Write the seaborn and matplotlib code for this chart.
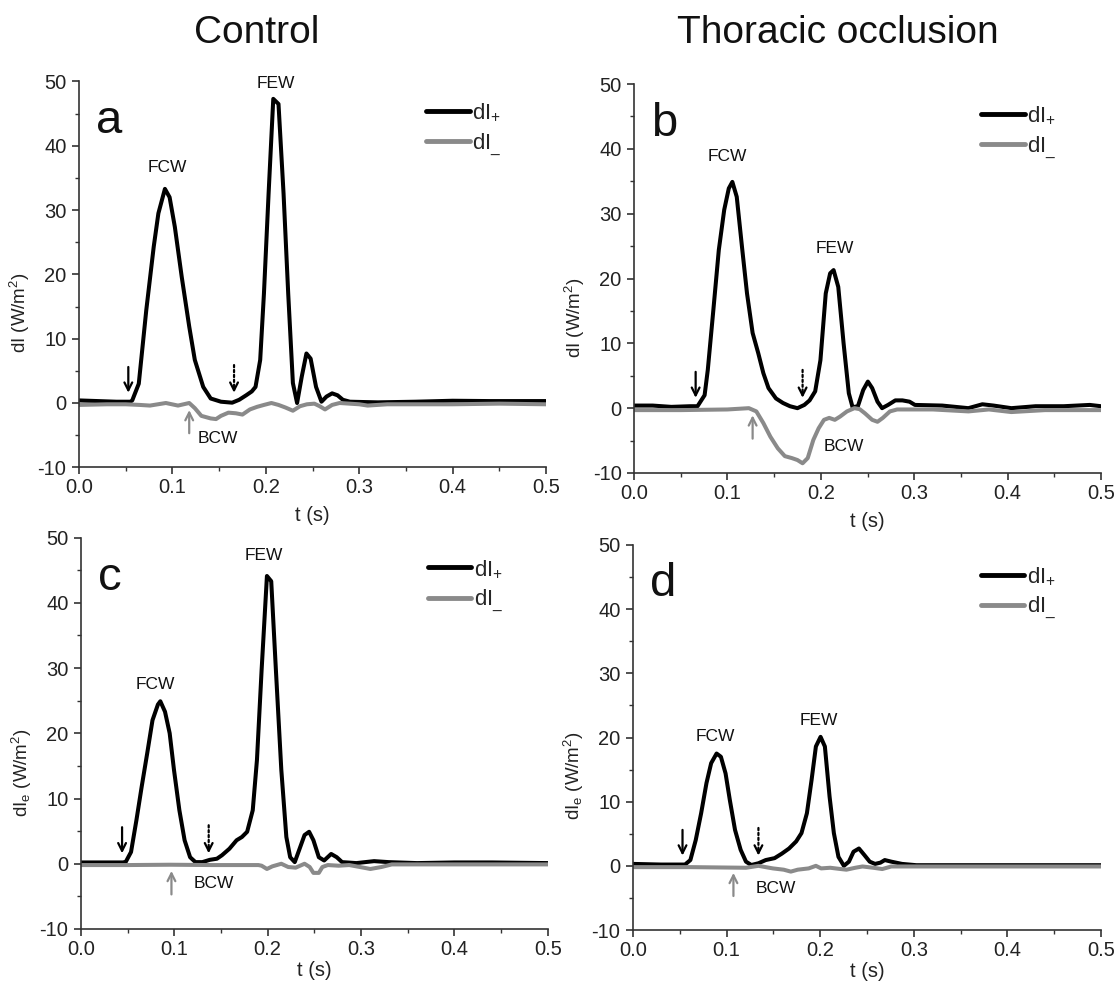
import matplotlib
matplotlib.use("Agg")
import matplotlib.pyplot as plt
import seaborn as sns
import pandas as pd

sns.set_style("ticks")
plt.rcParams['font.family'] = ['Liberation Sans', 'DejaVu Sans']
plt.rcParams['mathtext.fontset'] = 'custom'
plt.rcParams['mathtext.rm'] = 'Liberation Sans'
plt.rcParams['mathtext.it'] = 'Liberation Sans:italic'
plt.rcParams['mathtext.bf'] = 'Liberation Sans:bold'
plt.rcParams['axes.unicode_minus'] = False

# ---------------- data ----------------
column_titles = ["Control", "Thoracic occlusion"]
panel_letters = ["a", "b", "c", "d"]
ylabels = ["dI (W/m$^2$)", "dI (W/m$^2$)", "dI$_{\\mathrm{e}}$ (W/m$^2$)", "dI$_{\\mathrm{e}}$ (W/m$^2$)"]
series_labels = ["dI$_{{+}}$", "dI$_{{\\_}}$"]
xticks = [0.0, 0.1, 0.2, 0.3, 0.4, 0.5]
yticks = [-10, 0, 10, 20, 30, 40, 50]

a_pos_t = [0.0, 0.02, 0.04, 0.055, 0.057, 0.064, 0.072, 0.080, 0.085, 0.092, 0.097, 0.1026, 0.110, 0.118,
           0.124, 0.133, 0.141, 0.152, 0.164, 0.1715, 0.179, 0.185, 0.189, 0.194, 0.198, 0.203, 0.208,
           0.2136, 0.219, 0.224, 0.229, 0.2335, 0.2385, 0.2435, 0.248, 0.2538, 0.2596, 0.265, 0.271,
           0.2768, 0.2825, 0.29, 0.32, 0.36, 0.40, 0.44, 0.47, 0.5]
a_pos_v = [0.4, 0.3, 0.2, 0.2, 0.4, 3.0, 14.4, 24.3, 29.5, 33.3, 32.0, 27.4, 19.6, 11.9,
           6.7, 2.5, 0.7, 0.2, 0.05, 0.5, 1.2, 1.8, 2.5, 6.7, 17.0, 32.6, 47.3,
           46.5, 32.6, 17.0, 3.1, 0.0, 4.1, 7.7, 6.9, 2.5, 0.2, 1.0, 1.5,
           1.2, 0.5, 0.2, 0.1, 0.2, 0.35, 0.3, 0.3, 0.3]
a_neg_t = [0.0, 0.03, 0.05, 0.065, 0.076, 0.093, 0.106, 0.118, 0.124, 0.131, 0.141, 0.1467, 0.152, 0.16,
           0.168, 0.175, 0.183, 0.1906, 0.198, 0.206, 0.2136, 0.221, 0.229, 0.2366, 0.244, 0.252, 0.2577,
           0.2634, 0.271, 0.279, 0.30, 0.309, 0.33, 0.40, 0.45, 0.5]
a_neg_v = [-0.3, -0.2, -0.2, -0.3, -0.4, 0.0, -0.4, 0.0, -0.8, -2.0, -2.4, -2.5, -2.0, -1.5,
           -1.6, -1.8, -1.0, -0.6, -0.3, 0.0, -0.3, -0.7, -1.2, -0.5, -0.2, -0.1, -0.5,
           -1.0, -0.3, 0.0, -0.2, -0.4, -0.2, -0.2, -0.1, -0.2]

b_pos_t = [0.0, 0.02, 0.04, 0.06, 0.068, 0.0756, 0.079, 0.085, 0.0908, 0.0966, 0.1015, 0.1053, 0.11,
           0.1156, 0.121, 0.127, 0.133, 0.1385, 0.144, 0.152, 0.1595, 0.167, 0.175, 0.1824, 0.188, 0.194,
           0.1996, 0.2053, 0.21, 0.2137, 0.2187, 0.2244, 0.230, 0.234, 0.2397, 0.2454, 0.2504, 0.255,
           0.2607, 0.2656, 0.272, 0.2798, 0.2874, 0.295, 0.3008, 0.33, 0.358, 0.373, 0.385, 0.404, 0.43,
           0.46, 0.488, 0.5]
b_pos_v = [0.4, 0.4, 0.2, 0.3, 0.3, 2.0, 5.9, 15.2, 24.4, 30.6, 33.9, 34.9, 32.6,
           24.9, 17.7, 11.6, 8.5, 5.4, 3.1, 1.5, 0.8, 0.3, 0.0, 0.5, 1.2, 2.6,
           7.4, 17.7, 20.8, 21.3, 18.7, 10.0, 2.3, 0.15, 0.3, 2.8, 4.1, 3.1,
           1.0, 0.0, 0.5, 1.2, 1.2, 1.0, 0.5, 0.4, 0.0, 0.6, 0.4, 0.0, 0.3,
           0.3, 0.5, 0.3]
b_neg_t = [0.0, 0.05, 0.1, 0.123, 0.131, 0.1385, 0.146, 0.154, 0.1615, 0.169, 0.175, 0.1805, 0.186,
           0.192, 0.1977, 0.2034, 0.209, 0.215, 0.2206, 0.228, 0.236, 0.2416, 0.2473, 0.255, 0.2607,
           0.2664, 0.274, 0.2817, 0.32, 0.358, 0.38, 0.404, 0.44, 0.5]
b_neg_v = [-0.3, -0.3, -0.2, 0.0, -0.5, -2.3, -4.4, -6.2, -7.4, -7.7, -8.0, -8.5, -7.7,
           -4.9, -3.1, -1.8, -1.5, -1.8, -1.3, -0.5, 0.0, -0.15, -0.8, -1.8, -2.1,
           -1.5, -0.5, -0.2, -0.2, -0.5, -0.2, -0.6, -0.3, -0.3]

c_pos_t = [0.0, 0.02, 0.045, 0.048, 0.0536, 0.0594, 0.065, 0.0709, 0.0766, 0.0824, 0.085, 0.090, 0.095,
           0.0996, 0.1054, 0.111, 0.1169, 0.1226, 0.130, 0.138, 0.1456, 0.151, 0.159, 0.1667, 0.1724,
           0.178, 0.184, 0.1885, 0.1935, 0.1992, 0.2038, 0.2088, 0.2146, 0.22, 0.2241, 0.229, 0.2337,
           0.2395, 0.2444, 0.249, 0.2548, 0.2605, 0.268, 0.274, 0.2797, 0.295, 0.314, 0.3295, 0.36,
           0.40, 0.44, 0.5]
c_pos_v = [0.2, 0.2, 0.2, 0.3, 1.8, 6.7, 11.8, 16.9, 22.0, 24.4, 24.9, 23.3, 20.0,
           14.4, 8.2, 3.6, 1.0, 0.25, 0.25, 0.6, 0.77, 1.3, 2.3, 3.6, 4.1,
           4.9, 8.2, 15.9, 29.7, 44.1, 43.3, 29.7, 14.4, 4.1, 1.0, 0.25, 2.1,
           4.4, 4.9, 3.6, 1.0, 0.5, 1.5, 1.0, 0.25, 0.1, 0.4, 0.25, 0.1,
           0.2, 0.2, 0.1]
c_neg_t = [0.0, 0.05, 0.0958, 0.14, 0.19, 0.1935, 0.1992, 0.205, 0.2146, 0.222, 0.23, 0.2395, 0.245,
           0.249, 0.2548, 0.2586, 0.2644, 0.276, 0.2874, 0.2989, 0.31, 0.3218, 0.333, 0.40, 0.5]
c_neg_v = [-0.2, -0.2, -0.15, -0.2, -0.2, -0.3, -0.8, -0.4, 0.0, -0.5, -0.6, 0.0, -0.5,
           -1.4, -1.4, -0.5, -0.2, -0.3, -0.2, -0.5, -0.8, -0.5, -0.1, -0.1, -0.1]

d_pos_t = [0.0, 0.03, 0.0556, 0.0613, 0.067, 0.0728, 0.0785, 0.0835, 0.0893, 0.0939, 0.0989, 0.1034,
           0.109, 0.115, 0.1207, 0.1264, 0.134, 0.1418, 0.1513, 0.159, 0.1667, 0.1743, 0.18, 0.1858,
           0.1908, 0.1954, 0.2004, 0.205, 0.21, 0.2146, 0.2195, 0.2253, 0.2307, 0.2356, 0.2414, 0.2471,
           0.2529, 0.2586, 0.2644, 0.269, 0.276, 0.2874, 0.3027, 0.4, 0.5]
d_pos_v = [0.3, 0.2, 0.2, 0.9, 4.0, 8.2, 12.9, 16.0, 17.5, 17.0, 14.4, 10.3,
           5.6, 2.5, 0.65, 0.13, 0.4, 0.9, 1.2, 1.9, 2.7, 3.8, 5.1, 8.2,
           13.4, 18.6, 20.1, 18.6, 10.8, 5.1, 1.4, 0.0, 0.65, 2.2, 2.7, 1.7,
           0.65, 0.3, 0.5, 0.9, 0.65, 0.3, 0.1, 0.1, 0.1]
d_neg_t = [0.0, 0.06, 0.1207, 0.134, 0.1494, 0.161, 0.1686, 0.176, 0.1877, 0.1954, 0.201, 0.2107,
           0.222, 0.228, 0.2375, 0.2452, 0.2567, 0.2663, 0.276, 0.35, 0.5]
d_neg_v = [-0.2, -0.2, -0.3, 0.0, -0.4, -0.6, -0.9, -0.6, -0.4, 0.0, -0.4, -0.3,
           -0.5, -0.6, -0.3, -0.1, -0.3, -0.5, -0.1, -0.1, -0.1]

# wave labels: (t, y) of FCW, FEW, BCW label centres
fcw_pos = [(0.095, 36.7), (0.100, 38.8), (0.080, 27.4), (0.088, 20.1)]
few_pos = [(0.2105, 49.7), (0.215, 24.7), (0.1954, 47.2), (0.199, 22.7)]
bcw_pos = [(0.1485, -5.5), (0.2244, -5.9), (0.1418, -3.1), (0.1525, -3.5)]
# arrow times: onset (solid), reflected onset (dotted), BCW onset (gray)
onset_t = [0.0528, 0.066, 0.044, 0.0529]
second_t = [0.166, 0.1805, 0.1368, 0.134]
bcw_t = [0.118, 0.127, 0.0969, 0.1073]

panels = [
    (a_pos_t, a_pos_v, a_neg_t, a_neg_v),
    (b_pos_t, b_pos_v, b_neg_t, b_neg_v),
    (c_pos_t, c_pos_v, c_neg_t, c_neg_v),
    (d_pos_t, d_pos_v, d_neg_t, d_neg_v),
]

# ---------------- layout ----------------
W, H = 1118, 985
fig = plt.figure(figsize=(W / 100, H / 100), dpi=100)
boxes_px = [(79, 546, 81.5, 467.3), (634, 1101, 84, 473), (81, 547.7, 537.5, 929), (633, 1101, 545, 930)]
xlabel_y = [-0.10, -0.10, -0.082, -0.082]

BLACK = "#000000"
GRAY = "#8a8a8a"
SPINE = "#333333"

for i, (pt, pv, nt, nv) in enumerate(panels):
    x0, x1, ytop, ybot = boxes_px[i]
    ax = fig.add_axes([x0 / W, 1 - ybot / H, (x1 - x0) / W, (ybot - ytop) / H])
    dfp = pd.DataFrame({"t": pt, "v": pv})
    dfn = pd.DataFrame({"t": nt, "v": nv})
    sns.lineplot(data=dfp, x="t", y="v", ax=ax, color=BLACK, linewidth=2.9,
                 label=series_labels[0], sort=False, estimator=None)
    sns.lineplot(data=dfn, x="t", y="v", ax=ax, color=GRAY, linewidth=2.9,
                 label=series_labels[1], sort=False, estimator=None)
    ax.set_xlim(0, 0.5)
    ax.set_ylim(-10, 50)
    ax.set_xticks(xticks)
    ax.set_xticklabels([f"{v:.1f}" for v in xticks])
    ax.set_yticks(yticks)
    ax.set_xticks([0.05, 0.15, 0.25, 0.35, 0.45], minor=True)
    ax.set_yticks([-5, 5, 15, 25, 35, 45], minor=True)
    for s in ["top", "right"]:
        ax.spines[s].set_visible(False)
    for s in ["left", "bottom"]:
        ax.spines[s].set_color(SPINE)
        ax.spines[s].set_linewidth(1.2)
    ax.tick_params(axis="both", which="major", direction="out", length=5, width=1.2,
                   color=SPINE, labelsize=14.5, labelcolor="#222222")
    ax.tick_params(axis="y", which="major", pad=4)
    ax.tick_params(axis="x", which="major", pad=3)
    ax.tick_params(axis="both", which="minor", direction="out", length=3, width=1.0, color=SPINE)
    ax.set_xlabel("t (s)", fontsize=14.5, color="#222222")
    ax.set_ylabel(ylabels[i], fontsize=13.5, color="#222222")
    ax.xaxis.set_label_coords(0.5, xlabel_y[i])
    ax.yaxis.set_label_coords(-0.10, 0.40)
    ax.grid(False)

    leg = ax.legend(loc="upper left", bbox_to_anchor=(0.72, 0.975), frameon=False,
                    fontsize=16, handlelength=1.95, handletextpad=0.1, borderpad=0,
                    labelspacing=0.35)
    for line in leg.get_lines():
        line.set_linewidth(3.5)

    ax.text(0.018, 42, panel_letters[i], fontsize=34, ha="left", va="baseline", color="#111111")

    for lab, (tx, ty) in zip(["FCW", "FEW", "BCW"], [fcw_pos[i], few_pos[i], bcw_pos[i]]):
        ax.text(tx, ty, lab, fontsize=12.5, ha="center", va="center", color="#111111")

    # solid onset arrow
    ax.annotate("", xy=(onset_t[i], 1.6), xytext=(onset_t[i], 5.6),
                arrowprops=dict(arrowstyle="->", color=BLACK, lw=1.6, mutation_scale=14,
                                shrinkA=0, shrinkB=0))
    # dotted arrow: dotted shaft + head
    ax.annotate("", xy=(second_t[i], 2.4), xytext=(second_t[i], 5.9),
                arrowprops=dict(arrowstyle="-", color=BLACK, lw=1.6, ls=(0, (1, 1.2)),
                                shrinkA=0, shrinkB=0))
    ax.annotate("", xy=(second_t[i], 1.6), xytext=(second_t[i], 2.6),
                arrowprops=dict(arrowstyle="->", color=BLACK, lw=1.6, mutation_scale=14,
                                shrinkA=0, shrinkB=0))
    # gray BCW arrow (upward)
    ax.annotate("", xy=(bcw_t[i], -1.1), xytext=(bcw_t[i], -4.7),
                arrowprops=dict(arrowstyle="->", color=GRAY, lw=1.6, mutation_scale=14,
                                shrinkA=0, shrinkB=0))

fig.text(257 / W, 1 - 33 / H, column_titles[0], fontsize=28, ha="center", va="center", color="#111111")
fig.text(838 / W, 1 - 33 / H, column_titles[1], fontsize=28, ha="center", va="center", color="#111111")

fig.savefig("out.png", dpi=100, facecolor="white")
